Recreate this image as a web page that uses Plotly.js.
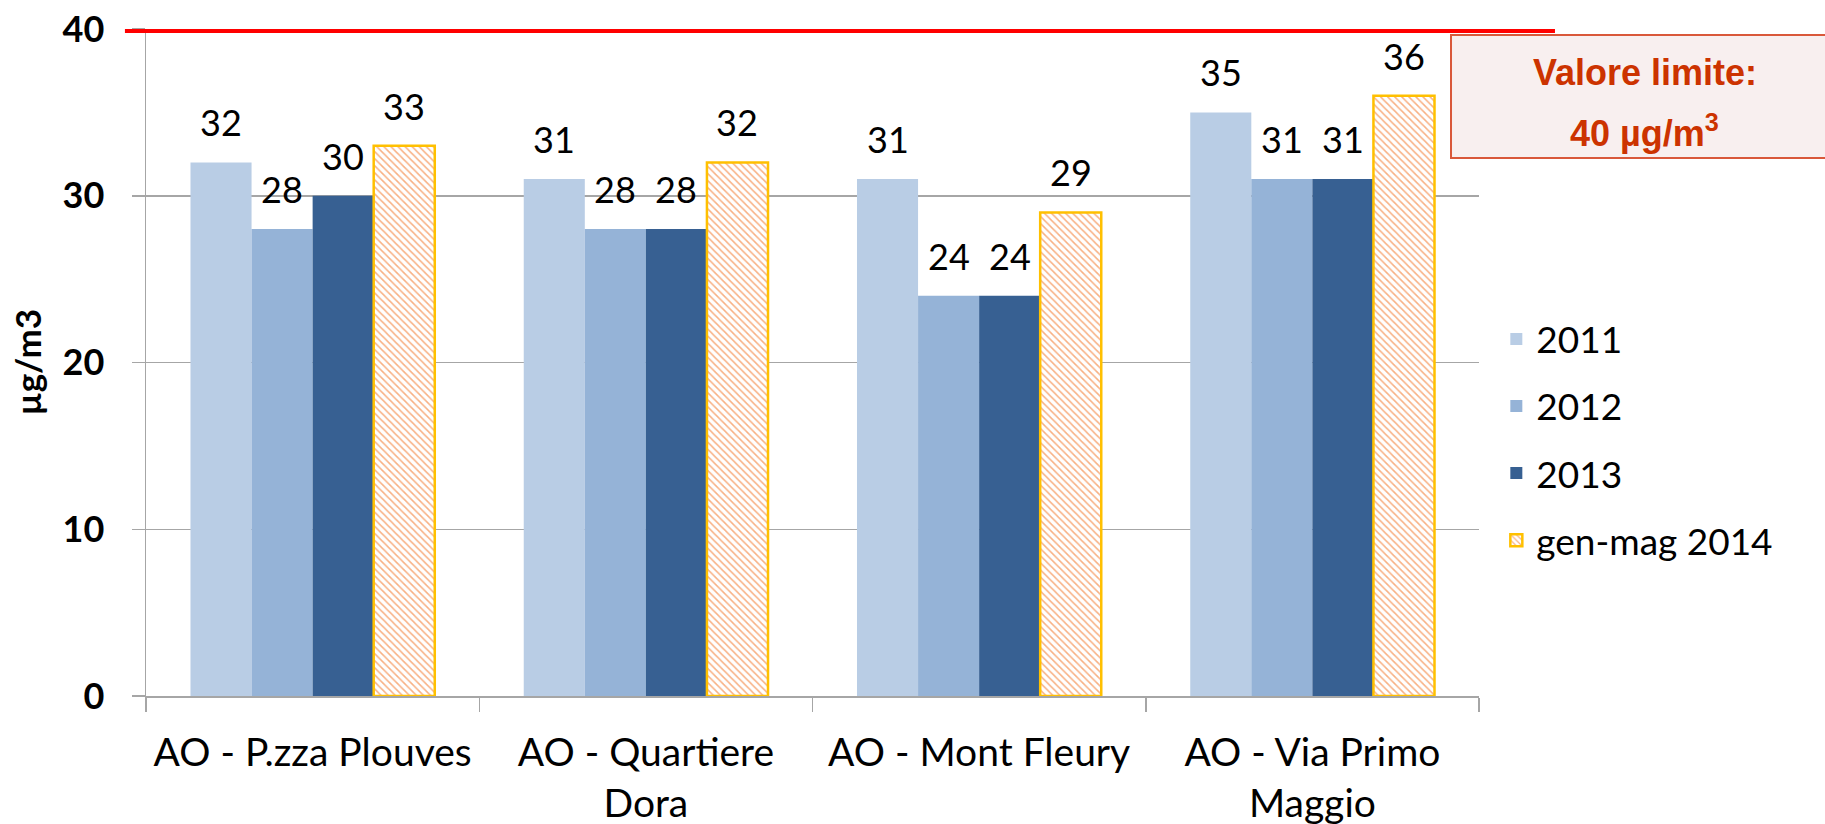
<!DOCTYPE html>
<html>
<head>
<meta charset="utf-8">
<script src="https://cdn.plot.ly/plotly-3.0.1.min.js"></script>
<style>html,body{margin:0;padding:0;background:#fff;}#chart{width:1825px;height:824px;}</style>
</head>
<body>
<div id="chart"></div>
<script>
// ---- data ----
const categories = ["AO - P.zza Plouves", "AO - Quartiere<br>Dora", "AO - Mont Fleury", "AO - Via Primo<br>Maggio"];
const seriesNames = ["2011", "2012", "2013", "gen-mag 2014"];
const values2011 = [32, 31, 31, 35];
const values2012 = [28, 28, 24, 31];
const values2013 = [30, 28, 24, 31];
const values2014 = [33, 32, 29, 36];
const yTicks = [0, 10, 20, 30, 40];
const yMax = 40;
const limitValue = 40;
const limitLine1 = "Valore limite:";
const limitLine2 = "40 µg/m<sup>3</sup>";
const yTitle = "µg/m3";

// ---- styles ----
const colors = ["#B9CDE5", "#95B3D7", "#376092", "#FFFFFF"];
const allValues = [values2011, values2012, values2013, values2014];
const W = 1825, H = 824;
const M = {l: 146, r: 346, t: 29, b: 128};
const plotW = W - M.l - M.r;
const bargap = 0.267;
const barPx = plotW / categories.length * (1 - bargap) / seriesNames.length;

const traces = seriesNames.map((name, i) => {
  const t = {
    type: "bar",
    name: name,
    x: categories,
    y: allValues[i],
    legendgroup: "g" + i,
    marker: {color: colors[i], line: {width: 0}},
    hoverinfo: "skip"
  };
  if (i === 3) {
    t.marker = {
      color: "#FFFFFF",
      line: {color: "#FFC000", width: 2.5},
      pattern: {shape: "\\", fgcolor: "#F8B083", bgcolor: "#FFFFFF", size: 5, solidity: 0.3, fillmode: "replace"}
    };
  }
  return t;
});

const annotations = [];
allValues.forEach((vals, i) => {
  vals.forEach((v, j) => {
    annotations.push({
      x: categories[j], y: v, xref: "x", yref: "y",
      text: String(v), showarrow: false,
      xanchor: "center", yanchor: "bottom",
      xshift: (i - 1.5) * barPx, yshift: 16,
      font: {family: "Lato, sans-serif", size: 36, color: "#000"}
    });
  });
});
annotations.push({
  x: 1.1245, y: 0.9355, xref: "paper", yref: "paper", showarrow: false,
  text: "<b>" + limitLine1 + "</b>", xanchor: "center", yanchor: "middle",
  font: {family: "Liberation Sans, Arial, sans-serif", size: 36, color: "#CC3300"}
});
annotations.push({
  x: 1.1245, y: 0.847, xref: "paper", yref: "paper", showarrow: false,
  text: "<b>" + limitLine2 + "</b>", xanchor: "center", yanchor: "middle",
  font: {family: "Liberation Sans, Arial, sans-serif", size: 36, color: "#CC3300"}
});
// y axis title
annotations.push({
  x: -0.0893, y: 0.5, xref: "paper", yref: "paper", showarrow: false,
  text: "<b>" + yTitle + "</b>", textangle: -90, xanchor: "center", yanchor: "middle",
  font: {family: "Lato, sans-serif", size: 35, color: "#000"}
});

const layout = {
  width: W, height: H,
  margin: M,
  paper_bgcolor: "#FFFFFF", plot_bgcolor: "#FFFFFF",
  barmode: "group", bargap: bargap, bargroupgap: 0,
  showlegend: true,
  legend: {
    x: 1.013, xanchor: "left", y: 0.384, yanchor: "middle",
    font: {family: "Lato, sans-serif", size: 37, color: "#000"},
    tracegroupgap: 16, bgcolor: "rgba(0,0,0,0)"
  },
  xaxis: {
    type: "category",
    tickson: "boundaries", ticks: "outside", ticklen: 14, tickwidth: 1.5, tickcolor: "#A6A6A6",
    showline: true, linecolor: "#A6A6A6", linewidth: 1.5,
    showgrid: false, zeroline: false,
    tickfont: {family: "Lato, sans-serif", size: 39, color: "#000"},
    ticklabelstandoff: 22
  },
  yaxis: {
    range: [0, yMax], tickvals: yTicks,
    ticks: "outside", ticklen: 13, tickwidth: 1.5, tickcolor: "#A6A6A6",
    showline: true, linecolor: "#A6A6A6", linewidth: 1.5,
    showgrid: true, gridcolor: "#A6A6A6", gridwidth: 1.5, zeroline: false,
    tickfont: {family: "Lato, sans-serif", size: 36, color: "#000", weight: "bold"},
    ticklabelstandoff: 20
  },
  shapes: [
    {type: "rect", xref: "paper", yref: "paper", x0: 0.979, x1: 1.275, y0: 0.8066, y1: 0.991,
     fillcolor: "#F8EFEF", line: {color: "#D9583A", width: 2}, layer: "above"},
    {type: "line", xref: "paper", yref: "paper", x0: -0.0158, x1: 1.057,
     y0: limitValue / yMax - 0.003, y1: limitValue / yMax - 0.003,
     line: {color: "#FF0000", width: 4}, layer: "above"}
  ],
  annotations: annotations
};

Plotly.newPlot("chart", traces, layout, {staticPlot: true, displayModeBar: false});
</script>
</body>
</html>
